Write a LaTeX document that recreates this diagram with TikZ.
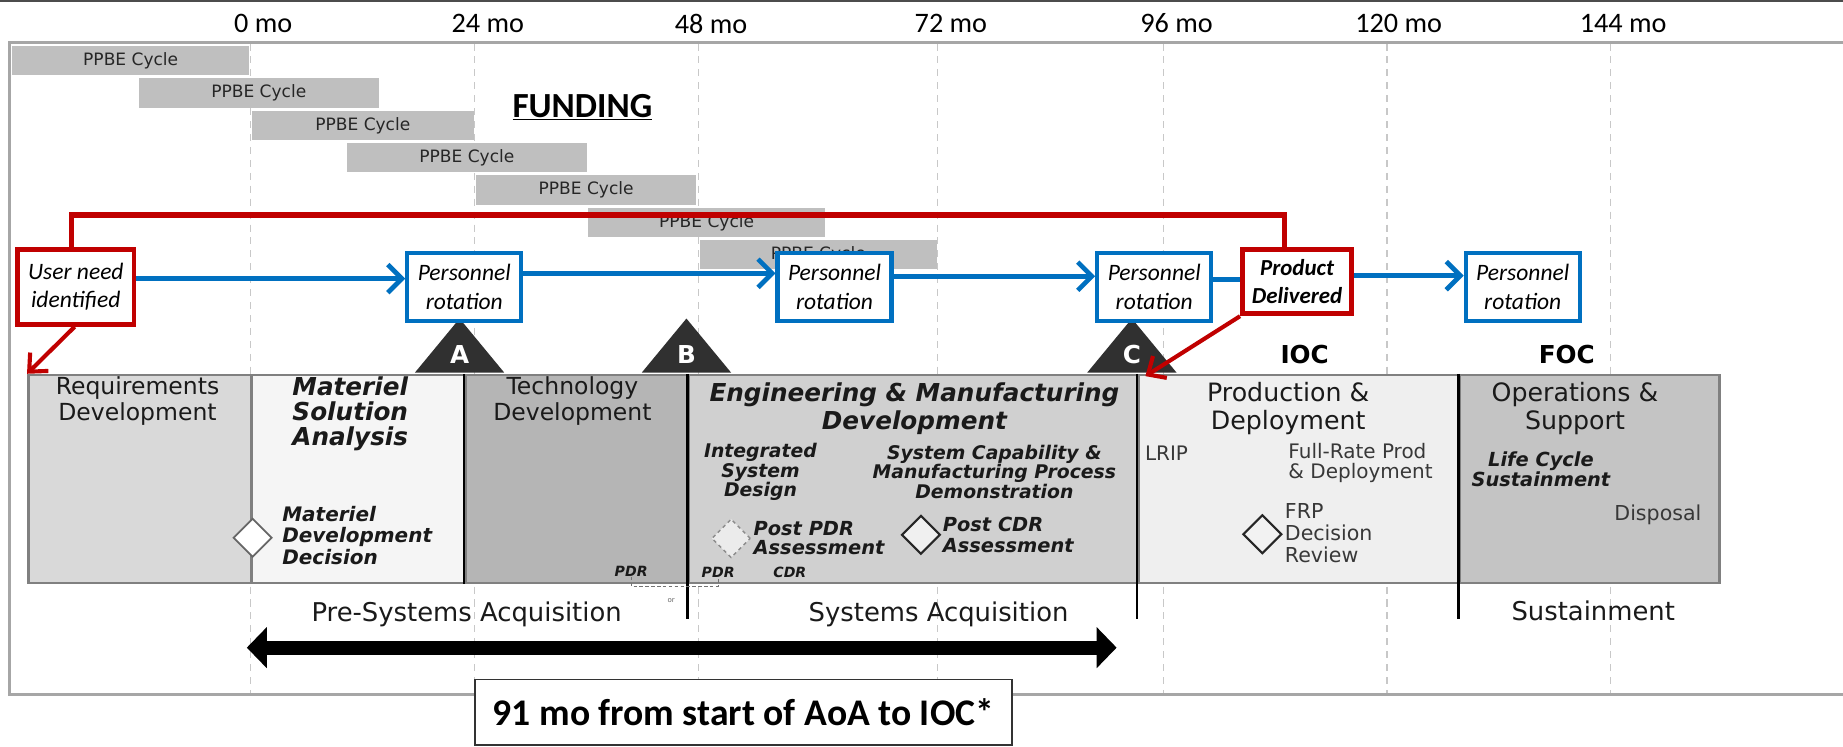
\documentclass[tikz,border=0pt]{standalone}
\usepackage{fontspec}
\setmainfont{Carlito}
\newfontfamily\dvs{DejaVu Sans}
\usetikzlibrary{arrows.meta,shapes.geometric}

\definecolor{redc}{HTML}{C00000}
\definecolor{bluec}{HTML}{0070C0}
\definecolor{ppbec}{HTML}{BFBFBF}
\definecolor{framec}{HTML}{A6A6A6}
\definecolor{gridc}{HTML}{C8C8C8}
\definecolor{darkc}{HTML}{303030}
\definecolor{txtc}{HTML}{1A1A1A}
\definecolor{softc}{HTML}{383838}
\definecolor{edgec}{HTML}{808080}
\definecolor{reqc}{HTML}{D9D9D9}
\definecolor{msac}{HTML}{F5F5F5}
\definecolor{tdc}{HTML}{B5B5B5}
\definecolor{emdc}{HTML}{D0D0D0}
\definecolor{pdc}{HTML}{EFEFEF}
\definecolor{osc}{HTML}{C4C4C4}

\newcommand{\fsz}[2]{\fontsize{#1}{#2}\selectfont}

\tikzset{
  gridline/.style={gridc, dash pattern=on 6pt off 5pt, line width=0.9pt},
  monthlbl/.style={font=\fsz{24}{26}, text=black, inner sep=0},
  ppbe/.style={fill=ppbec, inner sep=0, anchor=north west, minimum height=25pt, font=\dvs\fsz{14.5}{16}, text=black!85},
  userbox/.style={draw=redc, line width=4pt, fill=white, inner sep=0, align=center},
  persbox/.style={draw=bluec, line width=3.5pt, fill=white, minimum width=97pt, minimum height=58pt, inner sep=0, align=center, font=\itshape\fsz{20}{24.5}},
  phase/.style={draw=edgec, line width=2.2pt, anchor=north west, inner sep=0, minimum height=177pt},
  msline/.style={black, line width=2pt},
  msletter/.style={text=white, font=\dvs\bfseries\fsz{21}{21}, inner sep=0},
  phtitle/.style={text=txtc, font=\dvs\fsz{20}{22}, align=center, inner sep=0},
  phbold/.style={text=txtc, font=\dvs\bfseries\itshape\fsz{21}{21}, align=center, inner sep=0},
  subbold/.style={text=txtc, font=\dvs\bfseries\itshape\fsz{16}{16.5}, align=center, inner sep=0},
  subreg/.style={text=softc, font=\dvs\fsz{17}{16.5}, align=left, inner sep=0},
  tinybold/.style={text=txtc, font=\dvs\bfseries\itshape\fsz{12}{12}, inner sep=0},
  ocap/.style={text=black, font=\dvs\bfseries\fsz{21}{21}, inner sep=0},
  acqlbl/.style={text=txtc, font=\dvs\fsz{22}{22}, inner sep=0},
  decision/.style={diamond, aspect=1, minimum width=33pt, minimum height=33pt, inner sep=0},
  redline/.style={redc, line width=4.5pt},
  bluearr/.style={bluec, line width=4pt, -{Straight Barb[length=12pt,width=24pt]}},
  bluelink/.style={bluec, line width=4pt},
  redarr/.style={redc, line width=3.5pt, -{Straight Barb[length=12pt,width=22pt]}},
}

\begin{document}
\begin{tikzpicture}[x=1pt,y=-1pt]
\useasboundingbox (0,0) rectangle (1568,635.5);
\clip (0,0) rectangle (1568,635.5);
\fill[white] (0,0) rectangle (1568,635.5);

% grid lines
\foreach \gx in {213,404,594,798,990,1180,1370} {\draw[gridline] (\gx,37) -- (\gx,590);}

% frame
\draw[framec, line width=2.5pt] (8,36) rectangle (1620,591);
\draw[black!70, line width=1.6pt] (0,1) -- (1568,1);

% month labels
\node[monthlbl] (m0) at (224,20) {0 mo};
\node[monthlbl] (m24) at (415,20) {24 mo};
\node[monthlbl] (m48) at (605,20) {48 mo};
\node[monthlbl] (m72) at (809,20) {72 mo};
\node[monthlbl] (m96) at (1001,20) {96 mo};
\node[monthlbl] (m120) at (1190,20) {120 mo};
\node[monthlbl] (m144) at (1381,20) {144 mo};

% PPBE cycles
\node[ppbe, minimum width=202pt] (c1) at (10,39) {PPBE Cycle};
\node[ppbe, minimum width=204pt] (c2) at (118,66.5) {PPBE Cycle};
\node[ppbe, minimum width=189pt] (c3) at (214,94) {PPBE Cycle};
\node[ppbe, minimum width=204pt] (c4) at (295,121.5) {PPBE Cycle};
\node[ppbe, minimum width=187pt] (c5) at (405,149) {PPBE Cycle};
\node[ppbe, minimum width=202pt] (c6) at (500,176.5) {PPBE Cycle};
\node[ppbe, minimum width=202pt] (c7) at (595,204) {PPBE Cycle};

\node[font=\bfseries\fsz{30}{32}, inner sep=0] (fund) at (495.5,91) {\underline{FUNDING}};

% phase boxes
\node[phase, fill=reqc, minimum width=190pt] (req) at (23,318) {};
\node[phase, fill=msac, minimum width=182pt] (msa) at (213,318) {};
\node[phase, fill=tdc, minimum width=190pt] (td) at (395,318) {};
\node[phase, fill=emdc, minimum width=382.5pt] (emd) at (585,318) {};
\node[phase, fill=pdc, minimum width=273.5pt] (pdb) at (967.5,318) {};
\node[phase, fill=osc, minimum width=221pt] (os) at (1241,318) {};

\draw[msline] (td.north west) -- (td.south west);
\draw[msline] (emd.north west) -- ++(0,209);
\draw[msline] (pdb.north west) -- ++(0,209);
\draw[msline] (os.north west) -- ++(0,209);

% milestones
\foreach \tx/\tl/\tn in {391/A/ma, 584/B/mb, 963/C/mc} {
  \fill[darkc] (\tx-38,317) -- (\tx,271) -- (\tx+38,317) -- cycle;
  \node[msletter] (\tn) at (\tx,302) {\tl};
}
\node[ocap] (ioc) at (1110,302) {IOC};
\node[ocap] (foc) at (1333,302) {FOC};

% phase texts
\node[phtitle] (treq) at (117,341) {Requirements\\Development};
\node[phbold] (tmsa) at (298,352) {Materiel\\Solution\\Analysis};
\node[decision, draw=black!60, line width=1.5pt, fill=white] (mdd) at (215,457.5) {};
\node[subbold, font=\dvs\bfseries\itshape\fsz{17}{18.5}, align=left, anchor=west] (tmdd) at (240,455.5) {Materiel\\Development\\Decision};
\node[phtitle] (ttd) at (487,341) {Technology\\Development};
\node[tinybold] (pdr1) at (537,486) {PDR};

\node[phbold, font=\dvs\bfseries\itshape\fsz{21}{24}] (temd) at (778,347.5) {Engineering \& Manufacturing\\Development};
\node[subbold] (tisd) at (647,401.5) {Integrated\\System\\Design};
\node[subbold] (tscm) at (846,401.5) {System Capability \&\\Manufacturing Process\\Demonstration};
\node[decision, draw=black!45, dashed, line width=1.2pt, fill=black!8] (ppdr) at (622,458) {};
\node[subbold, font=\dvs\bfseries\itshape\fsz{16.5}{16.5}, align=left, anchor=west] (tppdr) at (641,458) {Post PDR\\Assessment};
\node[decision, draw=black!85, line width=1.8pt, fill=black!6] (pcdr) at (783.5,455) {};
\node[subbold, font=\dvs\bfseries\itshape\fsz{16.5}{18}, align=left, anchor=west] (tpcdr) at (802,455) {Post CDR\\Assessment};
\node[tinybold] (pdr2) at (611,487) {PDR};
\node[tinybold] (cdr) at (672,487) {CDR};
\draw[black!55, densely dashed, line width=0.8pt] (pdr1.south) -- ++(0,8) -| (pdr2.south);
\node[text=black!60, font=\dvs\fsz{6}{6}, inner sep=0] (orl) at (571,511) {or};

\node[phtitle, font=\dvs\fsz{21.5}{24.5}] (tpd) at (1096,347.5) {Production \&\\Deployment};
\node[subreg, anchor=west] (lrip) at (974,386) {LRIP};
\node[subreg, anchor=west] (tfrp) at (1096,394) {Full-Rate Prod\\\& Deployment};
\node[decision, draw=black!85, line width=1.8pt, fill=black!5] (frp) at (1074,454.5) {};
\node[subreg, font=\dvs\fsz{17.5}{18.5}, anchor=west] (tfrpd) at (1093,453.5) {FRP\\Decision\\Review};

\node[phtitle, font=\dvs\fsz{21.5}{24.5}] (tos) at (1340,347.5) {Operations \&\\Support};
\node[subbold, font=\dvs\bfseries\itshape\fsz{16.5}{17}] (tlcs) at (1311,399.5) {Life Cycle\\Sustainment};
\node[subreg, font=\dvs\fsz{17.5}{18}] (tdisp) at (1410.5,438) {Disposal};

% event boxes
\node[userbox, minimum width=99pt, minimum height=64pt, font=\itshape\fsz{20}{24}] (user) at (64.5,244) {User need\\identified};
\node[userbox, minimum width=93pt, minimum height=55pt, font=\bfseries\itshape\fsz{19.5}{24}] (prod) at (1103.5,239.5) {Product\\Delivered};
\node[persbox] (p1) at (395,244) {Personnel\\rotation};
\node[persbox] (p2) at (710,244) {Personnel\\rotation};
\node[persbox] (p3) at (982,244) {Personnel\\rotation};
\node[persbox] (p4) at (1295.5,244) {Personnel\\rotation};

% red top connector
\draw[redline] ([xshift=-3.5pt]user.north) -- ++(0,-27) -| ([xshift=-10.5pt]prod.north);

% blue arrows
\coordinate (s1) at ([yshift=7pt]user.east);
\coordinate (s2) at ([yshift=11.5pt]p1.east);
\coordinate (s3) at ([yshift=9pt]p2.east);
\coordinate (s4) at ([yshift=6pt]p3.east);
\coordinate (s5) at ([yshift=5pt]prod.east);
\draw[bluearr] (s1) -- (s1 -| p1.west);
\draw[bluearr] (s2) -- (s2 -| p2.west);
\draw[bluearr] (s3) -- (s3 -| p3.west);
\draw[bluelink] (s4) -- (s4 -| prod.west);
\draw[bluearr] (s5) -- (s5 -| p4.west);

% red arrows
\draw[redarr] ([xshift=-1pt]user.south) -- (req.north west);
\draw[redarr] (prod.south west) -- ([xshift=7pt,yshift=-2pt]pdb.north west);

% acquisition labels
\node[acqlbl] (pre) at (397,523) {Pre-Systems Acquisition};
\node[acqlbl] (sys) at (798.5,523) {Systems Acquisition};
\node[acqlbl] (sus) at (1355.5,520) {Sustainment};

% big arrow
\coordinate (bl) at (210,551);
\coordinate (br) at (950,551);
\draw[black, line width=12pt, {Triangle[length=17pt,width=34pt]}-{Triangle[length=17pt,width=34pt]}] (bl) -- (br);

\node[draw=black!80, line width=1.5pt, fill=white, minimum width=457pt, minimum height=56pt, inner sep=0, font=\bfseries\fsz{32}{34}] (aoa) at (632.5,606) {91 mo from start of AoA to IOC*};
\end{tikzpicture}
\end{document}
